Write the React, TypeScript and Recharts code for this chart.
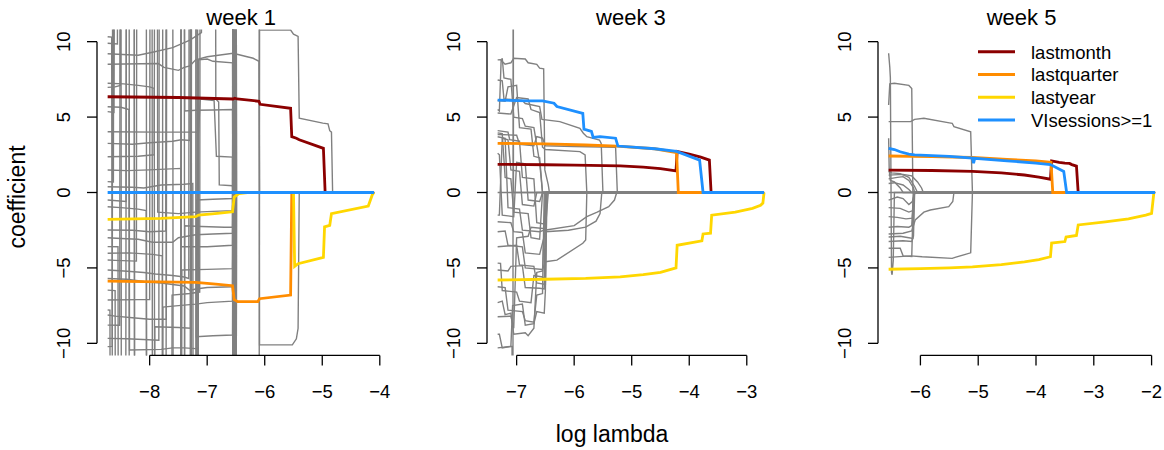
import React from 'react';
import { LineChart, Line, XAxis, YAxis, ReferenceLine } from 'recharts';

type Pt = [number, number];

const FONT = '"Liberation Sans", Arial, Helvetica, sans-serif';
const GRAY = '#808080';

const SERIES_NAMES = ['lastmonth', 'lastquarter', 'lastyear', 'VIsessions>=1'];
const SERIES_COLORS = ['#8B0000', '#FF8C00', '#FFD700', '#1E90FF'];
const PANEL_TITLES = ['week 1', 'week 3', 'week 5'];
const X_LABEL = 'log lambda';
const Y_LABEL = 'coefficient';

const Y_TICKS = [-10, -5, 0, 5, 10];
const Y_DOMAIN: [number, number] = [-10.8, 10.8];
const W1_X_TICKS = [-8, -7, -6, -5, -4];
const W3_X_TICKS = [-7, -6, -5, -4, -3];
const W5_X_TICKS = [-6, -5, -4, -3, -2];
const W1_X_DOMAIN: [number, number] = [-8.915, -3.915];
const W3_X_DOMAIN: [number, number] = [-7.515, -2.515];
const W5_X_DOMAIN: [number, number] = [-6.734, -1.756];

// ---------- week 1 ----------
const w1LastMonth: Pt[] = [[-8.73,6.35],[-7.5,6.3],[-6.55,6.2],[-6.52,6.25],[-6.48,6.2],[-6.1,6.05],[-6.08,5.85],[-5.55,5.58],[-5.53,3.7],[-5.45,3.6],[-5.4,3.5],[-4.98,2.93],[-4.95,0],[-4.1,0]];
const w1LastQuarter: Pt[] = [[-8.73,-5.88],[-7.2,-5.96],[-6.85,-6.08],[-6.56,-6.18],[-6.53,-7.1],[-6.47,-7.24],[-6.12,-7.24],[-6.09,-7.04],[-5.55,-6.8],[-5.53,0],[-4.1,0]];
const w1LastYear: Pt[] = [[-8.73,-1.78],[-7.8,-1.72],[-7.2,-1.6],[-7.15,-1.5],[-6.82,-1.38],[-6.56,-1.28],[-6.53,-0.3],[-6.45,-0.08],[-6.3,0],[-5.5,0],[-5.48,-4.9],[-5.42,-4.72],[-4.98,-4.3],[-4.96,-2.28],[-4.87,-2.18],[-4.84,-1.4],[-4.2,-0.9],[-4.13,-0.15],[-4.1,0]];
const w1VIsessions: Pt[] = [[-8.73,0],[-4.1,0]];

const w1Gray: Pt[][] = [
  [[-8.73,10.33],[-8.66,10.3],[-8.64,-30],[-7.46,-30],[-7.45,30],[-6.56,30],[-6.55,0],[-4.1,0]],
  [[-8.73,9.9],[-8.56,9.85],[-8.55,30],[-7.28,30],[-7.27,-30],[-6.53,-30],[-6.52,0],[-4.1,0]],
  [[-8.73,8.5],[-7.85,8.55],[-7.75,8.3],[-7.5,8.1],[-7.4,8.3],[-7.3,8.4],[-7.2,8.8],[-7.0,9.0],[-6.55,9.23],[-6.2,8.9],[-6.1,8.7],[-6.09,0],[-4.1,0]],
  [[-8.73,7.24],[-8.45,7.2],[-8.2,7.1],[-8.0,7.0],[-7.92,6.9],[-7.91,-30],[-7.2,-30],[-7.19,30],[-6.56,30],[-6.55,-30],[-6.5,-30],[-6.49,0],[-4.1,0]],
  [[-8.73,6.97],[-8.6,7.0],[-8.51,7.1],[-8.5,30],[-8.06,30],[-8.05,-30],[-7.16,-30],[-7.15,8.8],[-7.0,8.85],[-6.9,8.7],[-6.56,8.6],[-6.55,0],[-4.1,0]],
  [[-8.73,5.69],[-8.5,5.65],[-8.36,5.5],[-8.35,-30],[-7.78,-30],[-7.77,30],[-7.4,30],[-7.39,5.4],[-7.2,5.45],[-6.9,5.47],[-6.56,5.5],[-6.55,0],[-4.1,0]],
  [[-8.73,5.36],[-8.62,5.3],[-8.6,30],[-8.27,30],[-8.26,-30],[-7.72,-30],[-7.71,0],[-4.1,0]],
  [[-8.73,4.03],[-7.9,4.0],[-7.15,4.0],[-7.12,6.2],[-6.88,6.1],[-6.84,2.4],[-6.56,2.35],[-6.55,-30],[-6.51,-30],[-6.5,0],[-4.1,0]],
  [[-8.73,3.26],[-8.3,3.2],[-8.0,3.3],[-7.6,3.4],[-7.45,3.5],[-7.3,3.45],[-7.28,30],[-6.86,30],[-6.85,6.2],[-6.8,6.0],[-6.79,0.5],[-6.56,0.45],[-6.55,0],[-4.1,0]],
  [[-8.73,2.37],[-8.2,2.4],[-7.92,2.5],[-7.91,30],[-7.6,30],[-7.59,-30],[-7.3,-30],[-7.29,0],[-4.1,0]],
  [[-8.73,1.49],[-8.4,1.45],[-8.0,1.5],[-7.46,1.6],[-7.45,-30],[-6.53,-30],[-6.52,0],[-4.1,0]],
  [[-8.73,0.72],[-8.63,0.7],[-8.62,30],[-8.5,30],[-8.49,-30],[-7.19,-30],[-7.18,-0.5],[-6.9,-0.45],[-6.56,-0.4],[-6.55,0],[-4.1,0]],
  [[-8.73,0.38],[-8.3,0.35],[-8.1,0.3],[-7.8,0.5],[-7.4,0.55],[-7.25,0.6],[-7.24,-30],[-6.56,-30],[-6.55,30],[-6.52,30],[-6.51,0],[-4.1,0]],
  [[-8.73,-0.5],[-8.41,-0.6],[-8.4,30],[-7.87,30],[-7.86,-1.3],[-7.5,-1.4],[-7.2,-1.3],[-6.9,-1.25],[-6.56,-1.2],[-6.55,0],[-4.1,0]],
  [[-8.73,-0.94],[-8.5,-1.0],[-8.2,-1.1],[-8.06,-1.2],[-8.05,-30],[-7.4,-30],[-7.39,-2.2],[-7.1,-2.25],[-6.7,-2.3],[-6.56,-2.3],[-6.55,30],[-6.5,30],[-6.49,0],[-4.1,0]],
  [[-8.73,-2.49],[-8.3,-2.5],[-8.0,-2.6],[-7.72,-2.55],[-7.71,30],[-7.17,30],[-7.16,-30],[-6.52,-30],[-6.51,0],[-4.1,0]],
  [[-8.73,-3.59],[-8.55,-3.6],[-8.54,-30],[-8.42,-30],[-8.4,30],[-7.46,30],[-7.45,-3.6],[-7.0,-3.6],[-6.56,-3.5],[-6.55,0],[-4.1,0]],
  [[-8.73,-4.03],[-8.35,-4.0],[-7.95,-4.1],[-7.78,-4.2],[-7.77,-30],[-7.28,-30],[-7.27,30],[-6.54,30],[-6.53,0],[-4.1,0]],
  [[-8.73,-4.48],[-8.6,-4.5],[-8.23,-4.55],[-8.22,30],[-7.96,30],[-7.95,-30],[-7.45,-30],[-7.44,-5.14],[-7.0,-5.1],[-6.56,-5.05],[-6.55,0],[-4.1,0]],
  [[-8.73,-5.14],[-8.45,-5.2],[-8.1,-5.3],[-7.9,-5.4],[-7.6,-5.5],[-7.4,-5.6],[-7.32,-5.7],[-7.31,30],[-6.53,30],[-6.52,-30],[-6.5,-30],[-6.49,0],[-4.1,0]],
  [[-8.73,-6.47],[-8.6,-6.5],[-8.59,-30],[-7.62,-30],[-7.61,-6.8],[-7.3,-6.7],[-7.13,-6.6],[-7.12,30],[-6.56,30],[-6.55,0],[-4.1,0]],
  [[-8.73,-7.13],[-8.2,-7.1],[-8.0,-7.1],[-7.99,30],[-7.4,30],[-7.39,-30],[-6.56,-30],[-6.55,0],[-4.1,0]],
  [[-8.73,-7.79],[-8.69,-7.8],[-8.68,-30],[-7.78,-30],[-7.77,-7.6],[-7.5,-7.5],[-7.2,-7.4],[-7.0,-7.3],[-6.56,-7.2],[-6.55,30],[-6.5,30],[-6.49,0],[-4.1,0]],
  [[-8.73,-8.12],[-8.6,-8.2],[-8.3,-8.3],[-8.0,-8.4],[-7.71,-8.4],[-7.7,30],[-7.2,30],[-7.19,-9.56],[-6.9,-9.5],[-6.56,-9.45],[-6.55,0],[-4.1,0]],
  [[-8.73,-8.79],[-8.52,-8.8],[-8.51,30],[-8.27,30],[-8.26,-30],[-7.92,-30],[-7.91,-8.9],[-7.5,-8.95],[-7.29,-9.0],[-7.28,30],[-6.52,30],[-6.51,0],[-4.1,0]],
  [[-8.73,-9.67],[-8.4,-9.7],[-7.84,-9.8],[-7.83,30],[-7.46,30],[-7.45,-30],[-6.55,-30],[-6.54,0],[-4.1,0]],
  [[-8.73,-10.22],[-8.65,-10.2],[-8.64,30],[-8.36,30],[-8.35,-10.44],[-7.8,-10.4],[-7.6,-10.3],[-7.4,-10.3],[-7.2,-10.35],[-7.16,-10.3],[-7.15,-30],[-6.53,-30],[-6.52,0],[-4.1,0]],
  [[-8.73,9.2],[-8.2,9.1],[-7.95,9.3],[-7.6,9.6],[-7.3,10.1],[-7.1,10.6],[-7.05,30],[-6.56,30],[-6.55,0],[-4.1,0]],
  [[-8.73,-3.0],[-8.5,-3.05],[-8.2,-3.1],[-7.95,-3.3],[-7.6,-3.3],[-7.5,-3.0],[-7.35,-2.9],[-7.2,-2.8],[-6.9,-2.75],[-6.56,-2.7],[-6.55,0],[-4.1,0]],
  [[-8.73,-5.7],[-8.4,-5.75],[-8.1,-5.9],[-7.8,-6.0],[-7.6,-6.1],[-7.4,-6.2],[-7.3,-6.5],[-7.2,-6.4],[-7.0,-6.3],[-6.56,-6.25],[-6.55,0],[-4.1,0]],
  [[-8.73,-30],[-6.1,-30],[-6.09,10.77],[-5.55,10.77],[-5.5,10.5],[-5.42,10.35],[-5.4,4.92],[-4.99,4.6],[-4.9,4.55],[-4.87,4.1],[-4.84,4.0],[-4.82,0],[-4.1,0]],
  [[-8.73,30],[-6.1,30],[-6.09,-10.1],[-5.52,-10.1],[-5.45,-9.7],[-5.42,-9.0],[-5.4,0],[-4.1,0]],
];

// ---------- week 3 ----------
const w3LastMonth: Pt[] = [[-7.33,1.87],[-6.5,1.84],[-6.0,1.82],[-5.2,1.76],[-4.8,1.68],[-4.5,1.58],[-4.23,1.43],[-4.21,2.72],[-4.0,2.55],[-3.8,2.35],[-3.65,2.15],[-3.62,0],[-2.7,0]];
const w3LastQuarter: Pt[] = [[-7.33,3.26],[-6.5,3.22],[-5.8,3.15],[-5.26,3.08],[-4.6,2.9],[-4.22,2.65],[-4.19,0],[-2.7,0]];
const w3LastYear: Pt[] = [[-7.33,-5.8],[-6.5,-5.75],[-5.8,-5.7],[-5.2,-5.6],[-4.8,-5.45],[-4.5,-5.3],[-4.23,-5.0],[-4.21,-3.5],[-3.78,-3.2],[-3.76,-2.75],[-3.63,-2.7],[-3.61,-1.5],[-3.2,-1.3],[-2.9,-1.05],[-2.76,-0.85],[-2.72,-0.7],[-2.7,0]];
const w3VIsessions: Pt[] = [[-7.33,6.13],[-6.8,6.08],[-6.55,6.07],[-6.35,5.92],[-6.3,5.7],[-5.85,5.25],[-5.83,4.2],[-5.7,4.05],[-5.67,3.65],[-5.55,3.7],[-5.28,3.6],[-5.24,3.08],[-4.6,2.9],[-4.22,2.72],[-3.82,2.15],[-3.76,0],[-2.7,0]];

const w3Gray: Pt[][] = [
  [[-7.33,0],[-2.7,0]],
  [[-7.33,-10.3],[-7.08,-10.2],[-7.065,-30],[-7.06,30],[-7.055,0],[-2.7,0]],
  [[-7.33,8.79],[-7.28,8.8],[-7.2,8.5],[-7.1,8.6],[-7.05,8.9],[-6.85,8.85],[-6.8,8.6],[-6.65,8.5],[-6.6,8.25],[-6.53,8.2],[-6.51,1.5],[-6.45,0.5],[-6.43,0],[-2.7,0]],
  [[-7.33,7.46],[-7.25,7.4],[-7.22,6.2],[-6.9,6.1],[-6.85,5.9],[-6.6,5.7],[-6.56,4.85],[-6.25,4.7],[-5.9,4.26],[-5.84,3.93],[-5.78,3.7],[-5.56,3.48],[-5.53,3.26],[-5.5,0],[-2.7,0]],
  [[-7.33,5.27],[-7.1,5.2],[-7.0,6.3],[-6.8,6.2],[-6.75,5.5],[-6.6,5.3],[-6.55,3.0],[-6.5,2.85],[-5.9,2.71],[-5.81,2.49],[-5.78,0],[-2.7,0]],
  [[-7.33,4.1],[-7.15,4.0],[-7.12,3.5],[-6.95,3.4],[-6.9,1.0],[-6.7,0.9],[-6.65,-2.0],[-6.5,-2.1],[-6.48,0],[-2.7,0]],
  [[-7.33,3.85],[-7.0,3.8],[-6.95,3.2],[-6.7,3.1],[-6.65,3.7],[-6.55,3.6],[-6.5,3.1],[-6.0,3.05],[-5.28,3.0],[-5.25,0],[-2.7,0]],
  [[-7.33,3.7],[-7.2,3.6],[-7.15,-1.0],[-6.95,-1.1],[-6.9,-2.5],[-6.6,-2.6],[-6.52,-2.5],[-6.0,-2.2],[-5.78,-1.6],[-5.6,-1.3],[-5.4,-0.94],[-5.3,-0.5],[-5.26,0],[-2.7,0]],
  [[-7.33,2.6],[-7.3,2.5],[-7.25,-1.5],[-7.05,-1.6],[-7.0,2.0],[-6.85,1.9],[-6.8,-0.5],[-6.6,-0.6],[-6.55,0],[-2.7,0]],
  [[-7.33,-1.94],[-7.1,-2.0],[-7.05,-2.6],[-6.9,-2.65],[-6.85,-4.0],[-6.6,-4.1],[-6.5,-2.6],[-6.1,-2.5],[-5.8,-2.3],[-5.62,-1.9],[-5.55,-1.4],[-5.52,0],[-2.7,0]],
  [[-7.33,-2.6],[-7.2,-2.55],[-7.15,-3.5],[-6.9,-3.6],[-6.85,-5.0],[-6.55,-5.1],[-6.5,-4.59],[-6.3,-4.48],[-5.85,-3.37],[-5.8,-3.15],[-5.78,0],[-2.7,0]],
  [[-7.33,-3.6],[-7.0,-3.5],[-6.95,-4.8],[-6.7,-4.9],[-6.65,-6.0],[-6.5,-6.1],[-6.48,0],[-2.7,0]],
  [[-7.33,-4.68],[-7.28,-4.7],[-7.25,-6.5],[-7.0,-6.6],[-6.95,-7.2],[-6.75,-7.3],[-6.7,-5.5],[-6.55,-5.6],[-6.5,-5.8],[-6.47,0],[-2.7,0]],
  [[-7.33,-5.14],[-7.15,-5.2],[-7.1,-4.9],[-6.9,-4.85],[-6.85,-6.3],[-6.6,-6.35],[-6.52,-6.4],[-6.5,0],[-2.7,0]],
  [[-7.33,-6.25],[-7.2,-6.3],[-7.15,-7.8],[-6.9,-7.9],[-6.85,-8.5],[-6.7,-8.6],[-6.65,-6.8],[-6.55,-6.7],[-6.52,0],[-2.7,0]],
  [[-7.33,-7.3],[-7.25,-7.2],[-7.2,-8.1],[-7.1,-8.0],[-7.05,-9.4],[-6.85,-9.3],[-6.8,-9.5],[-6.7,-9.0],[-6.65,-5.3],[-6.55,-5.2],[-6.5,0],[-2.7,0]],
  [[-7.33,-8.24],[-7.1,-8.2],[-7.05,-9.0],[-7.0,-3.0],[-6.8,-2.9],[-6.75,-2.3],[-6.5,-2.4],[-6.45,0],[-2.7,0]],
  [[-7.33,6.1],[-7.2,6.05],[-7.15,7.0],[-7.0,7.1],[-6.95,4.3],[-6.75,4.2],[-6.7,2.4],[-6.6,2.3],[-6.55,0],[-2.7,0]],
  [[-7.33,3.95],[-7.25,3.9],[-7.2,1.0],[-7.1,0.9],[-7.05,-1.3],[-6.8,-1.4],[-6.75,-3.0],[-6.6,-3.1],[-6.55,0],[-2.7,0]],
  [[-7.33,-1.5],[-7.3,-1.5],[-7.25,3.6],[-7.15,3.5],[-7.1,1.5],[-6.95,1.4],[-6.9,-0.8],[-6.7,-0.9],[-6.65,0],[-2.7,0]],
  [[-7.33,5.5],[-7.3,5.4],[-7.27,8.7],[-7.25,8.9],[-7.22,7.6],[-7.1,7.5],[-7.05,5.0],[-6.9,4.9],[-6.85,4.4],[-6.7,4.3],[-6.6,2.0],[-6.55,0],[-2.7,0]],
  [[-7.33,-9.4],[-7.3,-9.4],[-7.25,-10.3],[-7.1,-10.2],[-7.07,-7.5],[-6.9,-7.4],[-6.85,-8.8],[-6.7,-8.7],[-6.65,-7.9],[-6.52,-8.0],[-6.5,-6.5],[-6.48,0],[-2.7,0]],
];

// ---------- week 5 ----------
const w5LastMonth: Pt[] = [[-6.55,1.49],[-5.8,1.46],[-5.1,1.4],[-4.6,1.3],[-4.2,1.16],[-3.95,1.02],[-3.75,0.88],[-3.73,2.1],[-3.6,2.0],[-3.5,1.95],[-3.42,1.93],[-3.38,1.85],[-3.3,1.75],[-3.27,0],[-1.94,0]];
const w5LastQuarter: Pt[] = [[-6.55,2.42],[-5.8,2.38],[-5.1,2.32],[-4.5,2.2],[-4.0,2.1],[-3.74,2.0],[-3.71,0],[-1.94,0]];
const w5LastYear: Pt[] = [[-6.55,-5.09],[-6.0,-5.05],[-5.5,-5.0],[-5.1,-4.93],[-4.6,-4.78],[-4.2,-4.6],[-3.95,-4.45],[-3.75,-4.26],[-3.73,-3.35],[-3.5,-3.25],[-3.48,-2.95],[-3.3,-2.85],[-3.27,-2.15],[-2.8,-1.95],[-2.4,-1.75],[-2.1,-1.5],[-2.0,-1.38],[-1.96,0],[-1.94,0]];
const w5VIsessions: Pt[] = [[-6.55,2.93],[-6.45,2.85],[-6.35,2.7],[-6.2,2.55],[-6.1,2.49],[-5.5,2.4],[-5.1,2.28],[-5.08,1.95],[-5.06,2.27],[-4.5,2.1],[-4.0,1.95],[-3.75,1.85],[-3.52,1.4],[-3.47,0],[-1.94,0]];

const w5Gray: Pt[][] = [
  [[-6.55,0],[-1.94,0]],
  [[-6.55,9.23],[-6.53,8.3],[-6.52,7.6],[-6.5,-5.3],[-6.49,-5.45],[-6.47,-4.5],[-6.45,0],[-1.94,0]],
  [[-6.55,5.8],[-6.53,7.2],[-6.45,7.24],[-6.2,7.1],[-6.15,6.9],[-6.13,0],[-1.94,0]],
  [[-6.55,-4.3],[-6.17,-4.2],[-5.97,-4.26],[-5.45,-4.37],[-5.4,-4.3],[-5.13,-4.0],[-5.1,0],[-1.94,0]],
  [[-6.55,4.7],[-6.17,4.7],[-6.1,4.85],[-5.94,4.92],[-5.5,4.62],[-5.45,4.59],[-5.42,4.37],[-5.13,4.03],[-5.1,0],[-1.94,0]],
  [[-6.55,-3.7],[-6.35,-3.7],[-6.3,-4.2],[-6.15,-4.25],[-6.12,0],[-1.94,0]],
  [[-6.55,-2.75],[-6.3,-2.7],[-6.15,-2.55],[-6.09,-1.82],[-5.94,-1.3],[-5.83,-1.16],[-5.51,-0.94],[-5.44,-0.6],[-5.42,0],[-1.94,0]],
  [[-6.55,1.15],[-6.3,1.2],[-6.15,1.1],[-6.05,0.7],[-5.98,0.3],[-5.95,0],[-1.94,0]],
  [[-6.55,0.9],[-6.4,1.0],[-6.3,1.05],[-6.2,0.8],[-6.12,0.3],[-6.1,0],[-1.94,0]],
  [[-6.55,0.6],[-6.45,0.65],[-6.3,0.5],[-6.2,0.2],[-6.15,0],[-1.94,0]],
  [[-6.55,-0.5],[-6.4,-0.3],[-6.3,-0.4],[-6.2,-0.8],[-6.14,-0.6],[-6.1,0],[-1.94,0]],
  [[-6.55,-1.0],[-6.35,-1.05],[-6.2,-1.3],[-6.13,-1.2],[-6.1,0],[-1.94,0]],
  [[-6.55,-1.6],[-6.4,-1.65],[-6.25,-1.75],[-6.14,-1.7],[-6.11,0],[-1.94,0]],
  [[-6.55,-2.3],[-6.4,-2.25],[-6.2,-2.3],[-6.15,-2.2],[-6.12,0],[-1.94,0]],
  [[-6.55,-2.95],[-6.35,-2.9],[-6.2,-3.0],[-6.13,-3.05],[-6.11,0],[-1.94,0]],
  [[-6.55,-3.25],[-6.3,-3.2],[-6.15,-3.25],[-6.12,-2.9],[-6.1,0],[-1.94,0]],
  [[-6.55,3.6],[-6.54,1.5],[-6.52,0.8],[-6.45,0.7],[-6.35,0.3],[-6.3,0],[-1.94,0]],
  [[-6.55,1.4],[-6.5,1.3],[-6.35,1.25],[-6.2,1.0],[-6.1,0.4],[-6.05,0],[-1.94,0]],
];

// ---------- layout ----------
const AXW = 60;
const RM = 10;
const PLOT_W = 287.7;
const PLOT_TOP = 29.6;
const PLOT_BOTTOM = 355.4;
const H = 450;

const PANELS = [
  { title: PANEL_TITLES[0], left: 97.3, xDomain: W1_X_DOMAIN, xTicks: W1_X_TICKS, gray: w1Gray, series: [w1LastMonth, w1LastQuarter, w1LastYear, w1VIsessions] },
  { title: PANEL_TITLES[1], left: 487.1, xDomain: W3_X_DOMAIN, xTicks: W3_X_TICKS, gray: w3Gray, series: [w3LastMonth, w3LastQuarter, w3LastYear, w3VIsessions] },
  { title: PANEL_TITLES[2], left: 877.7, xDomain: W5_X_DOMAIN, xTicks: W5_X_TICKS, gray: w5Gray, series: [w5LastMonth, w5LastQuarter, w5LastYear, w5VIsessions] },
];

const toPts = (p: Pt[]) => p.map(([x, y]) => ({ x, y }));
const fmt = (v: number) => (v < 0 ? '\u2212' + Math.abs(v) : String(v));

const XTick = (props: any) => {
  const { x, payload } = props;
  return (
    <text x={x} y={398} textAnchor="middle" fontSize={18.5} fontFamily={FONT} fill="#000">
      {fmt(payload.value)}
    </text>
  );
};

const YTick = (props: any) => {
  const { y, payload } = props;
  const cx = AXW - 34;
  return (
    <text x={cx} y={y} transform={`rotate(-90 ${cx} ${y})`} dy="0.355em" textAnchor="middle" fontSize={18.5} fontFamily={FONT} fill="#000">
      {fmt(payload.value)}
    </text>
  );
};

function Panel({ p }: { p: (typeof PANELS)[number] }) {
  const width = AXW + PLOT_W + RM;
  return (
    <div style={{ position: 'absolute', left: p.left - AXW, top: 0, width, height: H }}>
      <LineChart width={width} height={H} margin={{ top: PLOT_TOP, right: RM, bottom: H - PLOT_BOTTOM - 60, left: 0 }}>
        <XAxis
          type="number"
          dataKey="x"
          domain={p.xDomain}
          allowDataOverflow
          ticks={p.xTicks}
          interval={0}
          axisLine={false}
          tickLine={{ stroke: '#000', strokeWidth: 1.3 }}
          tickSize={10}
          height={60}
          tick={XTick}
        />
        <YAxis
          type="number"
          domain={Y_DOMAIN}
          allowDataOverflow
          ticks={Y_TICKS}
          interval={0}
          axisLine={false}
          tickLine={{ stroke: '#000', strokeWidth: 1.3 }}
          tickSize={10}
          width={AXW}
          tick={YTick}
        />
        {p.gray.map((g, i) => (
          <Line
            key={'g' + i}
            data={toPts(g)}
            dataKey="y"
            type="linear"
            stroke={GRAY}
            strokeWidth={1.4}
            dot={false}
            activeDot={false}
            isAnimationActive={false}
            legendType="none"
          />
        ))}
        {p.series.map((s, i) => (
          <Line
            key={'s' + i}
            name={SERIES_NAMES[i]}
            data={toPts(s)}
            dataKey="y"
            type="linear"
            stroke={SERIES_COLORS[i]}
            strokeWidth={2.8}
            dot={false}
            activeDot={false}
            isAnimationActive={false}
          />
        ))}
        <ReferenceLine
          segment={[{ x: p.xTicks[0], y: Y_DOMAIN[0] }, { x: p.xTicks[p.xTicks.length - 1], y: Y_DOMAIN[0] }]}
          stroke="#000"
          strokeWidth={1.3}
          ifOverflow="visible"
        />
        <ReferenceLine
          segment={[{ x: p.xDomain[0], y: Y_TICKS[0] }, { x: p.xDomain[0], y: Y_TICKS[Y_TICKS.length - 1] }]}
          stroke="#000"
          strokeWidth={1.3}
          ifOverflow="visible"
        />
      </LineChart>
    </div>
  );
}

export default function App() {
  return (
    <div style={{ position: 'absolute', left: 0, top: 0, width: 1164, height: H, overflow: 'hidden', background: '#fff' }}>
      {PANELS.map((p, i) => (
        <Panel key={i} p={p} />
      ))}
      <svg width={1164} height={H} style={{ position: 'absolute', left: 0, top: 0, pointerEvents: 'none' }}>
        {PANELS.map((p, i) => (
          <text key={i} x={p.left + PLOT_W / 2} y={25} textAnchor="middle" fontSize={22} fontFamily={FONT} fill="#000">
            {p.title}
          </text>
        ))}
        <text x={612} y={442} textAnchor="middle" fontSize={23} fontFamily={FONT} fill="#000">
          {X_LABEL}
        </text>
        <text x={25} y={197} transform="rotate(-90 25 197)" textAnchor="middle" fontSize={23} fontFamily={FONT} fill="#000">
          {Y_LABEL}
        </text>
        {SERIES_NAMES.map((n, i) => (
          <g key={n}>
            <line x1={978} x2={1015} y1={51.7 + i * 22.8} y2={51.7 + i * 22.8} stroke={SERIES_COLORS[i]} strokeWidth={3} />
            <text x={1031} y={58.5 + i * 22.8} fontSize={18.5} fontFamily={FONT} fill="#000">
              {n}
            </text>
          </g>
        ))}
      </svg>
    </div>
  );
}
